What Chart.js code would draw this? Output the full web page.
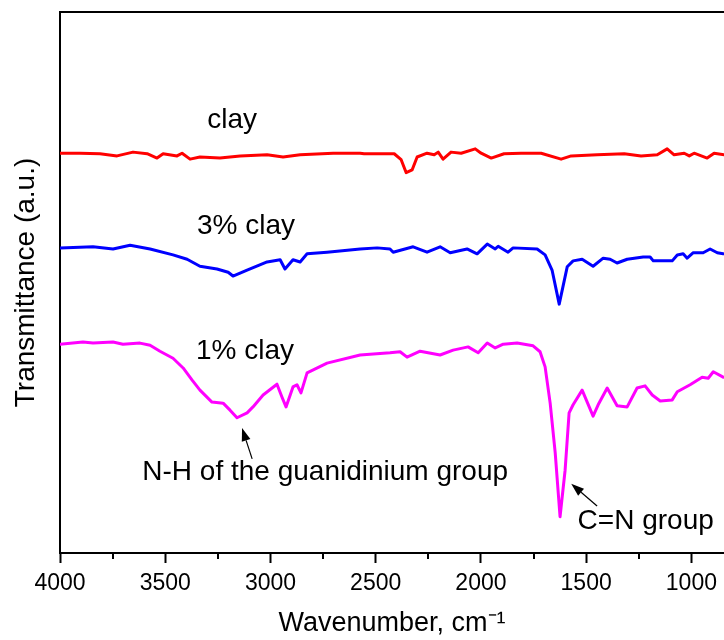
<!DOCTYPE html>
<html>
<head>
<meta charset="utf-8">
<script src="https://cdn.jsdelivr.net/npm/chart.js@4/dist/chart.umd.min.js"></script>
<style>
html,body{margin:0;padding:0;background:#ffffff;}
#wrap{width:724px;height:640px;overflow:hidden;}
</style>
</head>
<body>
<div id="wrap"><canvas id="c" width="724" height="640"></canvas></div>
<script>
// ---- data (wavenumber in cm^-1, transmittance in a.u.) ----
const clayWave = [4000,3905,3810,3729,3653,3586,3539,3510,3444,3420,3382,3335,3240,3144,3016,2940,2859,2702,2574,2555,2412,2379,2355,2327,2303,2256,2222,2203,2180,2142,2094,2027,1999,1951,1890,1809,1714,1619,1571,1448,1319,1239,1162,1115,1082,1034,1010,987,925,892,844];
const clayT = [73.9,73.9,73.8,73.4,74.1,73.8,73.0,73.8,73.4,73.9,72.8,73.2,73.0,73.4,73.6,73.2,73.6,73.9,73.9,73.8,73.8,72.7,70.3,70.8,73.2,73.9,73.6,74.1,72.8,74.1,73.9,74.7,73.9,73.0,73.8,73.9,73.9,72.8,73.4,73.6,73.8,73.4,73.6,74.7,73.6,73.9,73.4,73.9,73.0,73.9,73.6];

const clay3Wave = [4000,3843,3748,3667,3572,3463,3396,3335,3254,3201,3178,3111,3016,2954,2931,2893,2859,2826,2731,2574,2493,2432,2417,2322,2256,2194,2146,2066,2018,1970,1932,1918,1871,1847,1733,1695,1662,1628,1590,1562,1519,1467,1419,1386,1353,1305,1229,1196,1181,1091,1067,1039,1020,991,944,911,877,849];
const clay3T = [56.4,56.6,56.2,56.9,56.2,55.1,54.3,53.0,52.5,51.9,51.2,52.3,53.8,54.2,52.5,54.2,53.8,55.3,55.6,56.2,56.4,56.2,55.6,56.6,55.6,56.6,55.5,56.2,55.3,57.1,56.2,56.7,55.6,56.4,56.2,55.1,52.3,46.0,52.9,54.0,54.3,53.0,54.5,54.3,53.6,54.3,54.7,54.7,54.0,54.0,55.1,55.3,54.5,55.5,55.5,56.2,55.5,55.3];

const clay1Wave = [4000,3891,3843,3748,3701,3620,3572,3525,3463,3415,3373,3335,3278,3225,3192,3159,3111,3083,3035,2969,2945,2926,2893,2874,2855,2826,2731,2574,2432,2384,2351,2289,2194,2132,2061,2013,1970,1932,1894,1828,1752,1719,1695,1671,1647,1624,1600,1581,1562,1519,1467,1443,1400,1353,1305,1258,1220,1186,1148,1091,1067,1006,949,920,896,849];
const clay1T = [38.6,39.0,38.8,39.0,38.6,38.8,38.4,37.3,36.0,34.2,32.0,30.1,27.9,27.7,26.4,25.0,25.9,27.0,29.2,31.2,28.8,27.0,30.7,31.1,29.6,33.3,35.1,36.6,37.0,37.2,36.2,37.3,36.6,37.5,38.1,37.0,38.8,37.9,38.6,38.8,38.3,37.2,34.4,27.7,18.5,6.7,15.3,25.9,27.4,30.1,25.3,27.4,30.5,27.2,27.0,30.5,30.9,29.2,28.1,28.3,29.8,31.1,32.5,32.3,33.5,32.5];

const seriesNames = ['clay', '3% clay', '1% clay'];
const xTickValues = [1000,1500,2000,2500,3000,3500,4000];
const xMinorTickValues = [1250,1750,2250,2750,3250,3750];
const xTitle = 'Wavenumber, cm\u207B\u00B9';
const yTitle = 'Transmittance (a.u.)';

// annotation texts (anchored in data units)
const labelTexts = ['clay', '3% clay', '1% clay', 'N-H of the guanidinium group', 'C=N group'];
const labelWave  = [3182, 3116, 3121, 2740, 1217];
const labelT     = [80.0, 60.3, 37.2, 15.0, 5.9];
const arrowFromWave = [3087, 1448];
const arrowFromT    = [17.4, 8.7];
const arrowToWave   = [3135, 1571];
const arrowToT      = [23.1, 12.8];

const FONT = '"Liberation Sans", Arial, Helvetica, sans-serif';

function pts(w, t){ return w.map((v,i)=>({x:v, y:t[i]})); }

const annotPlugin = {
  id: 'annot',
  afterDraw(chart){
    const ctx = chart.ctx, xs = chart.scales.x, ys = chart.scales.y;
    ctx.save();
    // minor ticks
    ctx.strokeStyle = '#000'; ctx.lineWidth = 2;
    xMinorTickValues.forEach(v=>{
      const px = Math.round(xs.getPixelForValue(v));
      ctx.beginPath(); ctx.moveTo(px, xs.top); ctx.lineTo(px, xs.top + 6); ctx.stroke();
    });
    // text labels
    ctx.fillStyle = '#000';
    ctx.font = '28px ' + FONT;
    ctx.textAlign = 'center'; ctx.textBaseline = 'middle';
    labelTexts.forEach((t,i)=>{
      ctx.fillText(t, xs.getPixelForValue(labelWave[i]), ys.getPixelForValue(labelT[i]));
    });
    // arrows
    ctx.lineWidth = 1.2;
    arrowFromWave.forEach((w,i)=>{
      const x1 = xs.getPixelForValue(w), y1 = ys.getPixelForValue(arrowFromT[i]);
      const x2 = xs.getPixelForValue(arrowToWave[i]), y2 = ys.getPixelForValue(arrowToT[i]);
      const a = Math.atan2(y2-y1, x2-x1);
      const L = 13, H = 4.5;
      const bx = x2 - L*Math.cos(a), by = y2 - L*Math.sin(a);
      ctx.beginPath(); ctx.moveTo(x1,y1); ctx.lineTo(bx,by); ctx.stroke();
      ctx.beginPath();
      ctx.moveTo(x2,y2);
      ctx.lineTo(bx + H*Math.sin(a), by - H*Math.cos(a));
      ctx.lineTo(bx - H*Math.sin(a), by + H*Math.cos(a));
      ctx.closePath(); ctx.fill();
    });
    ctx.restore();
  }
};

const lineStyle = {borderWidth:3, pointRadius:0, tension:0, borderJoinStyle:'round', borderCapStyle:'round', fill:false};

new Chart(document.getElementById('c'), {
  type: 'line',
  data: {
    datasets: [
      Object.assign({label: seriesNames[0], data: pts(clayWave, clayT), borderColor:'#ff0000'}, lineStyle),
      Object.assign({label: seriesNames[1], data: pts(clay3Wave, clay3T), borderColor:'#0000ff'}, lineStyle),
      Object.assign({label: seriesNames[2], data: pts(clay1Wave, clay1T), borderColor:'#ff00ff'}, lineStyle)
    ]
  },
  options: {
    responsive: false,
    animation: false,
    layout: {padding: {top: 12, left: 0, right: 0, bottom: 0}},
    plugins: {legend: {display: false}, tooltip: {enabled: false}},
    scales: {
      x: {
        type: 'linear', position: 'bottom', reverse: true, min: 845, max: 4000,
        afterBuildTicks: s => { s.ticks = xTickValues.map(v => ({value: v})); },
        ticks: {font: {family: FONT, size: 23}, color: '#000', padding: 7, maxRotation: 0, autoSkip: false,
                callback: v => String(v)},
        grid: {display: true, drawOnChartArea: false, drawTicks: true, tickLength: 10, tickWidth: 2, tickColor: '#000'},
        border: {display: true, color: '#000', width: 2},
        title: {display: true, text: xTitle, font: {family: FONT, size: 27}, color: '#000', padding: {top: 3, bottom: 0}}
      },
      xTop: {
        type: 'linear', position: 'top', reverse: true, min: 845, max: 4000,
        ticks: {display: false},
        grid: {display: true, drawOnChartArea: false, drawTicks: false},
        border: {display: true, color: '#000', width: 2}
      },
      y: {
        type: 'linear', position: 'left', min: 0, max: 100,
        ticks: {display: false},
        grid: {display: true, drawOnChartArea: false, drawTicks: false},
        border: {display: true, color: '#000', width: 2},
        title: {display: true, text: yTitle, font: {family: FONT, size: 28}, color: '#000', padding: {top: 9, bottom: 0}},
        afterFit: s => { s.width = 60; }
      }
    }
  },
  plugins: [annotPlugin]
});
</script>
</body>
</html>
